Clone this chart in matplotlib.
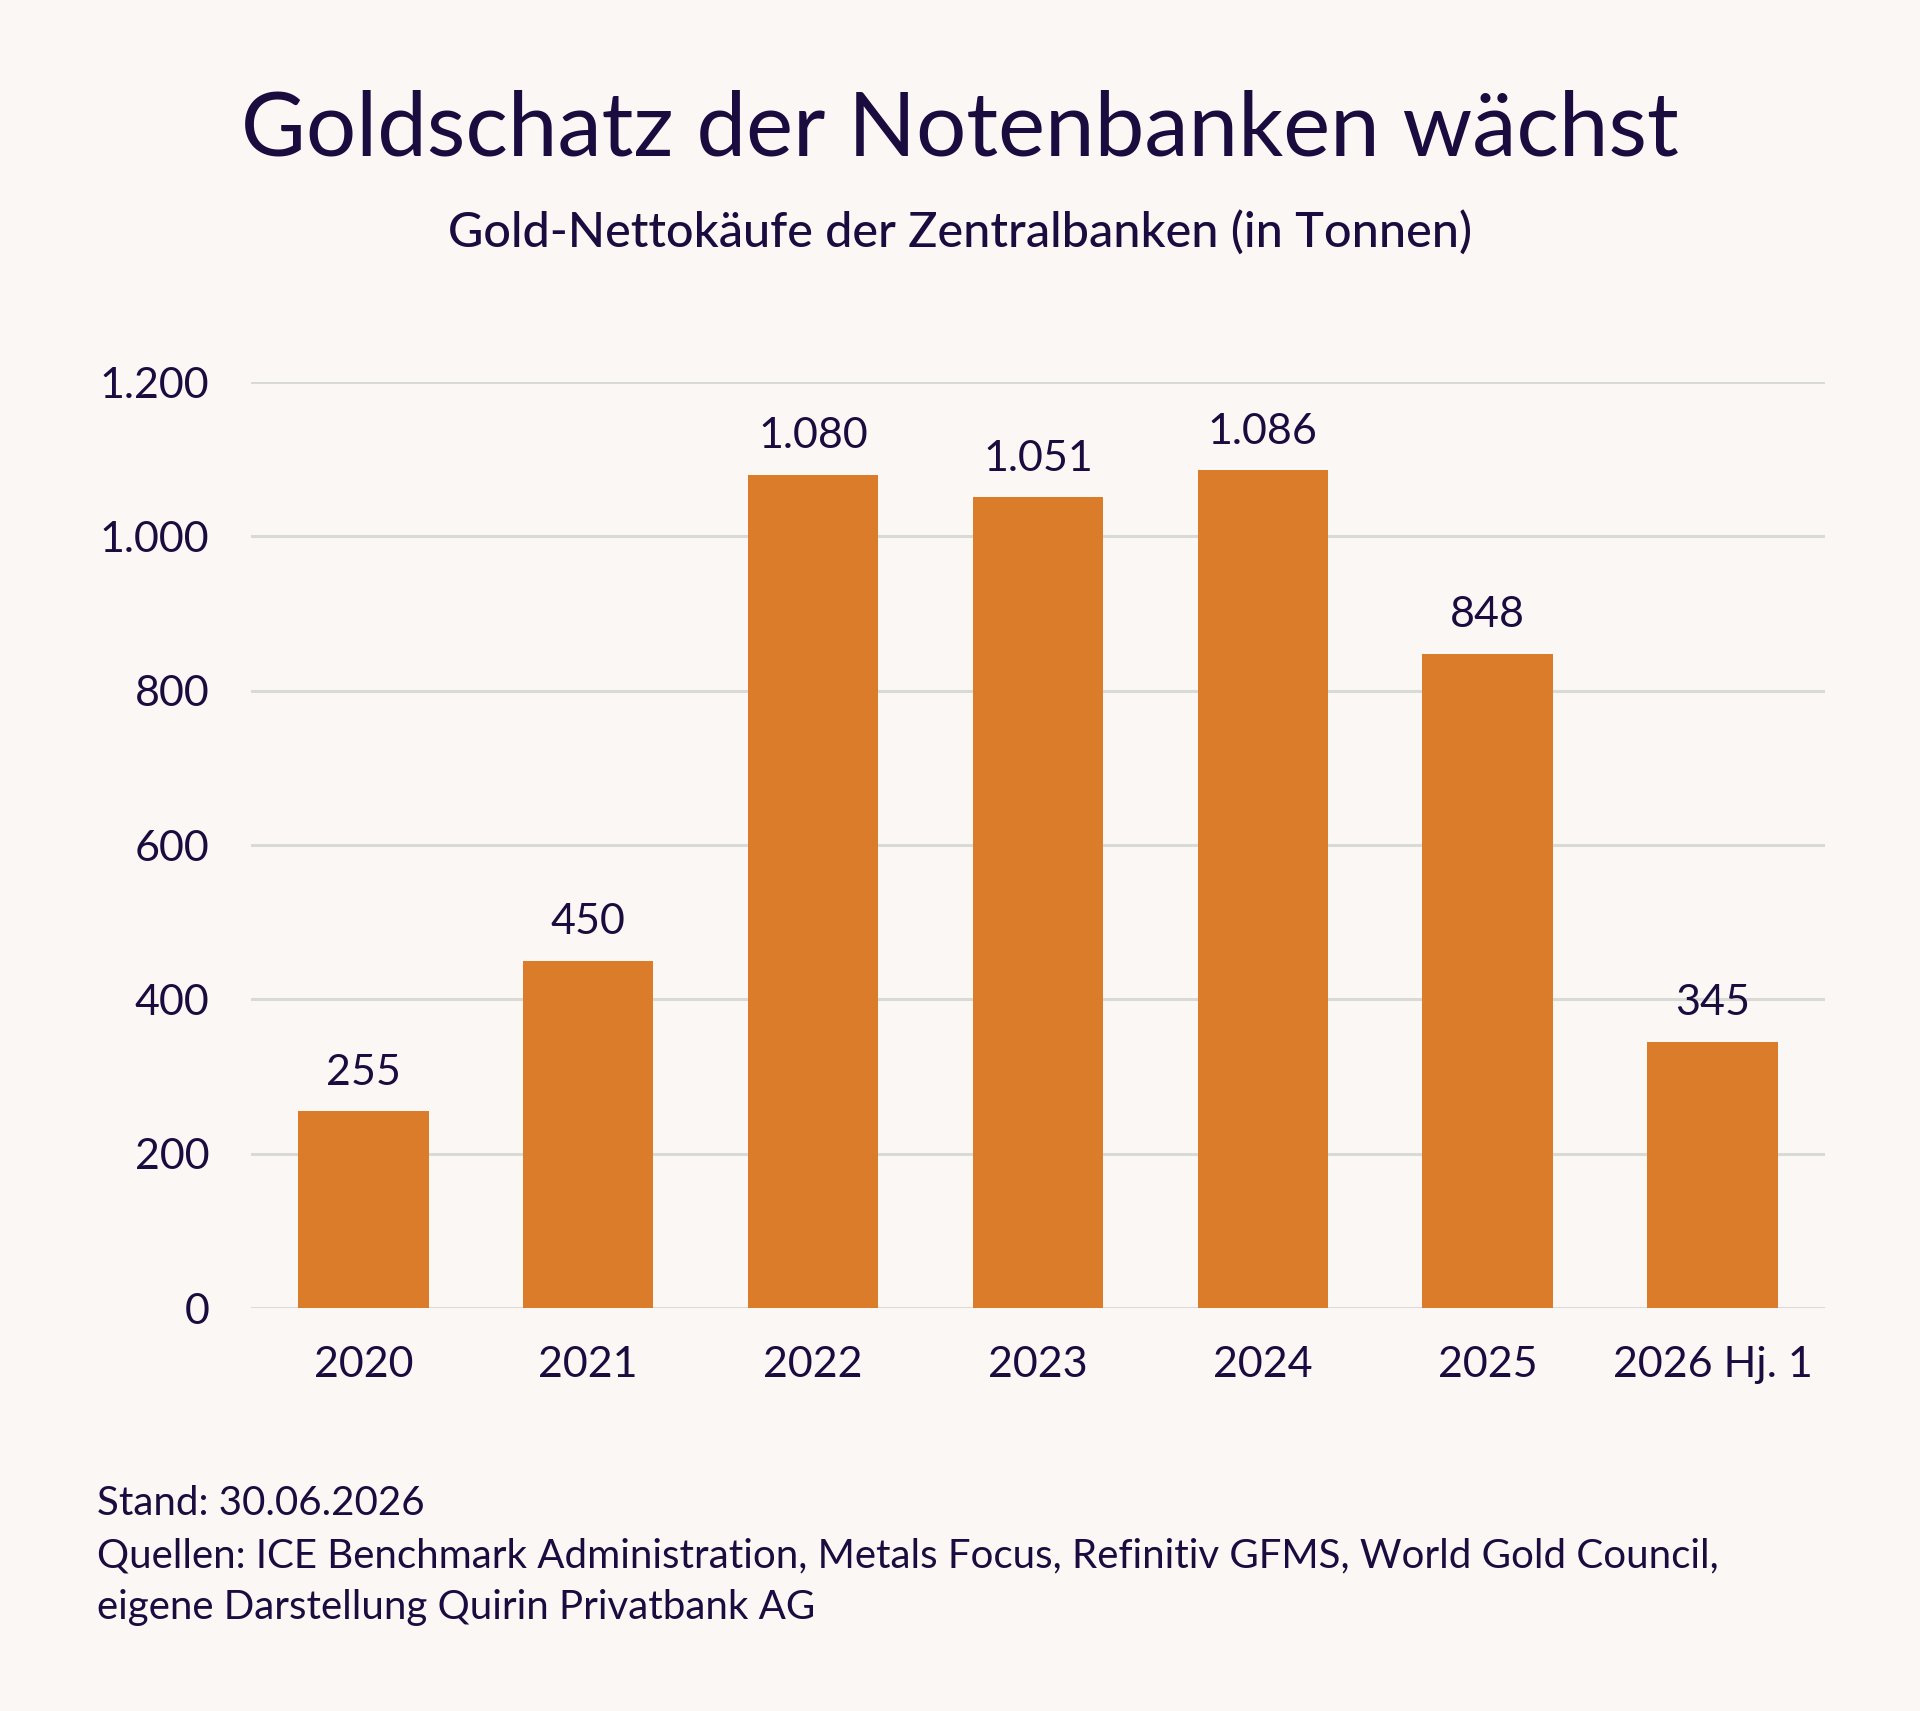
import numpy as np
import matplotlib.pyplot as plt

years = ['2020', '2021', '2022', '2023', '2024', '2025', '2026 Hj. 1']
tonnes = [255, 450, 1080, 1051, 1086, 848, 345]
value_labels = ['255', '450', '1.080', '1.051', '1.086', '848', '345']
yticks = [0, 200, 400, 600, 800, 1000, 1200]
ytick_labels = ['0', '200', '400', '600', '800', '1.000', '1.200']

bg = '#faf7f4'
ink = '#1b0c3f'
orange = '#db7c2a'

plt.rcParams['font.family'] = ['Lato', 'DejaVu Sans']

fig = plt.figure(figsize=(19.2, 17.11), dpi=100, facecolor=bg)
ax = fig.add_axes([0.1307, 0.2355, 0.8198, 0.5412])
ax.set_facecolor(bg)

x = np.arange(len(years))
ax.bar(x, tonnes, width=0.58, color=orange, zorder=3)
for xi, v, lab in zip(x, tonnes, value_labels):
    ax.annotate(lab, (xi, v), xytext=(0, 14), textcoords='offset points',
                ha='center', va='bottom', fontsize=31, color=ink)

ax.set_xlim(-0.5, len(years) - 0.5)
ax.set_ylim(0, 1200)
ax.set_yticks(yticks)
ax.set_yticklabels(ytick_labels)
ax.set_xticks(x)
ax.set_xticklabels(years)
ax.tick_params(axis='y', length=0, pad=30, labelsize=31, labelcolor=ink)
ax.tick_params(axis='x', length=0, pad=27, labelsize=31, labelcolor=ink)
ax.grid(axis='y', color='#d9d9d6', linewidth=2.2, zorder=0)
ax.set_axisbelow(True)
for s in ax.spines.values():
    s.set_visible(False)

fig.text(0.5, 0.924, 'Goldschatz der Notenbanken wächst', ha='center', va='center',
         fontsize=64, color=ink)
fig.text(0.5, 0.864, 'Gold-Nettokäufe der Zentralbanken (in Tonnen)', ha='center',
         va='center', fontsize=35, fontweight='medium', color=ink)

footer = ['Stand: 30.06.2026',
          'Quellen: ICE Benchmark Administration, Metals Focus, Refinitiv GFMS, World Gold Council,',
          'eigene Darstellung Quirin Privatbank AG']
for i, line in enumerate(footer):
    fig.text(0.0505, 0.121 - i * 0.0302, line, ha='left', va='center',
             fontsize=29, color=ink)

fig.savefig('out.png', dpi=100, facecolor=bg)
